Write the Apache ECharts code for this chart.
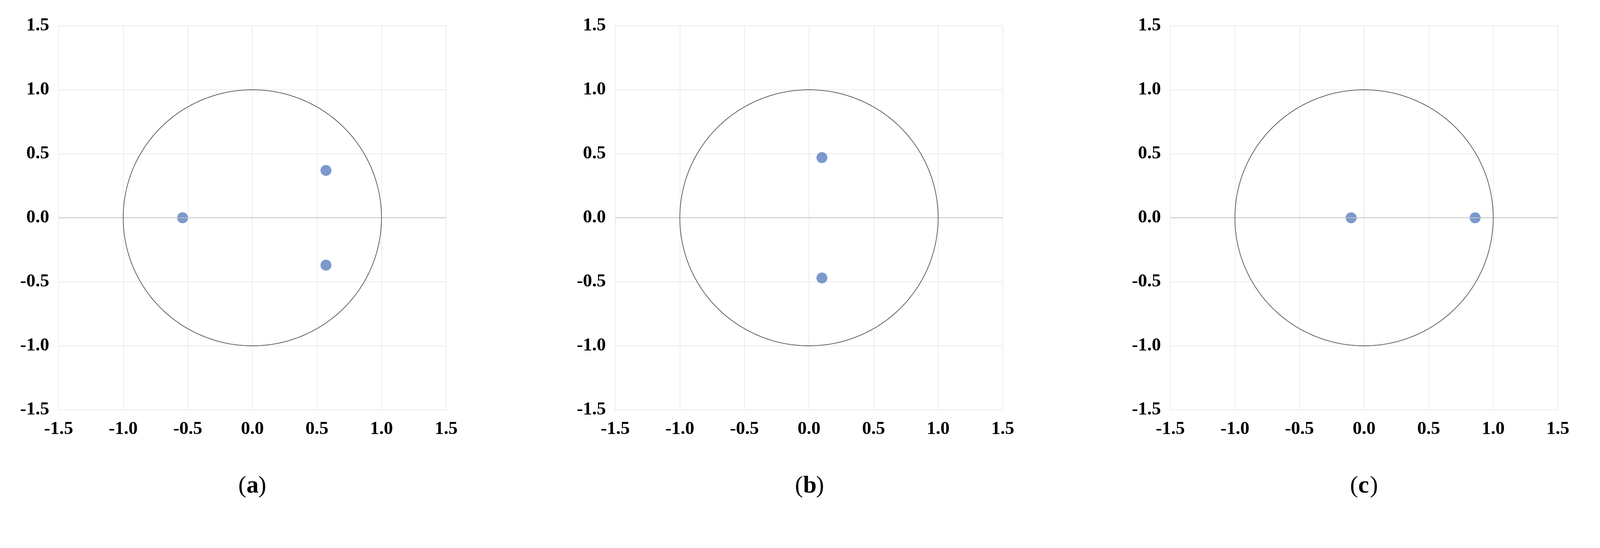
<!DOCTYPE html>
<html><head><meta charset="utf-8">
<script src="https://cdn.jsdelivr.net/npm/echarts@6/dist/echarts.min.js"></script>
<style>html,body{margin:0;background:#fff}#c{width:4161px;height:1404px}</style>
</head><body><div id="c"></div>
<script>
const tickLabels = ['-1.5','-1.0','-0.5','0.0','0.5','1.0','1.5'];
const panelLabels = ['a','b','c'];
const polesA = [[-0.54,0],[0.57,0.37],[0.57,-0.37]];
const polesB = [[0.10,0.47],[0.10,-0.47]];
const polesC = [[-0.10,0],[0.86,0]];
const poles = [polesA, polesB, polesC];
// unit circle reference curve
const circle = [];
for (let i = 0; i <= 360; i += 2) circle.push([Math.cos(i*Math.PI/180), Math.sin(i*Math.PI/180)]);

const lefts = [150, 1575, 2996];
const W = 992, H = 984, TOP = 66;
const font = {fontFamily:'Liberation Serif', fontWeight:'bold', fontSize:47, color:'#000'};
const grids=[], xAxes=[], yAxes=[], series=[], graphics=[];
lefts.forEach((l,i)=>{
  grids.push({left:l, top:TOP, width:W, height:H});
  const ax = {type:'value', min:-1.5, max:1.5, interval:0.5, gridIndex:i,
    axisLine:{show:false}, axisTick:{show:false},
    splitLine:{lineStyle:{color:'#e6e6e6', width:1.5}},
    axisLabel:Object.assign({formatter:v=>tickLabels[Math.round((v+1.5)*2)]}, font)};
  xAxes.push(Object.assign({}, ax, {axisLabel:Object.assign({}, ax.axisLabel, {margin:26})}));
  yAxes.push(Object.assign({}, ax, {axisLabel:Object.assign({}, ax.axisLabel, {margin:24})}));
  series.push({type:'line', xAxisIndex:i, yAxisIndex:i, data:[[-1.5,0],[1.5,0]], symbol:'none', silent:true,
    lineStyle:{color:'#c4c4c4', width:2}});
  series.push({type:'line', xAxisIndex:i, yAxisIndex:i, data:circle, symbol:'none', smooth:false,
    lineStyle:{color:'#555', width:1.8}});
  series.push({type:'scatter', xAxisIndex:i, yAxisIndex:i, data:poles[i], symbolSize:28,
    itemStyle:{color:'#5b7fc2'}});
  const cx = l + W/2 - 36;
  graphics.push({type:'text', left:cx, top:1215, style:{text:'(', font:'62px "Liberation Serif"', fill:'#000'}});
  graphics.push({type:'text', left:cx+21, top:1215, style:{text:panelLabels[i], font:'bold 62px "Liberation Serif"', fill:'#000'}});
  graphics.push({type:'text', left:cx+21+(panelLabels[i]==='b'?33:30), top:1215, style:{text:')', font:'62px "Liberation Serif"', fill:'#000'}});
});
const chart = echarts.init(document.getElementById('c'));
chart.setOption({animation:false, grid:grids, xAxis:xAxes, yAxis:yAxes, series, graphic:graphics});
</script></body></html>
